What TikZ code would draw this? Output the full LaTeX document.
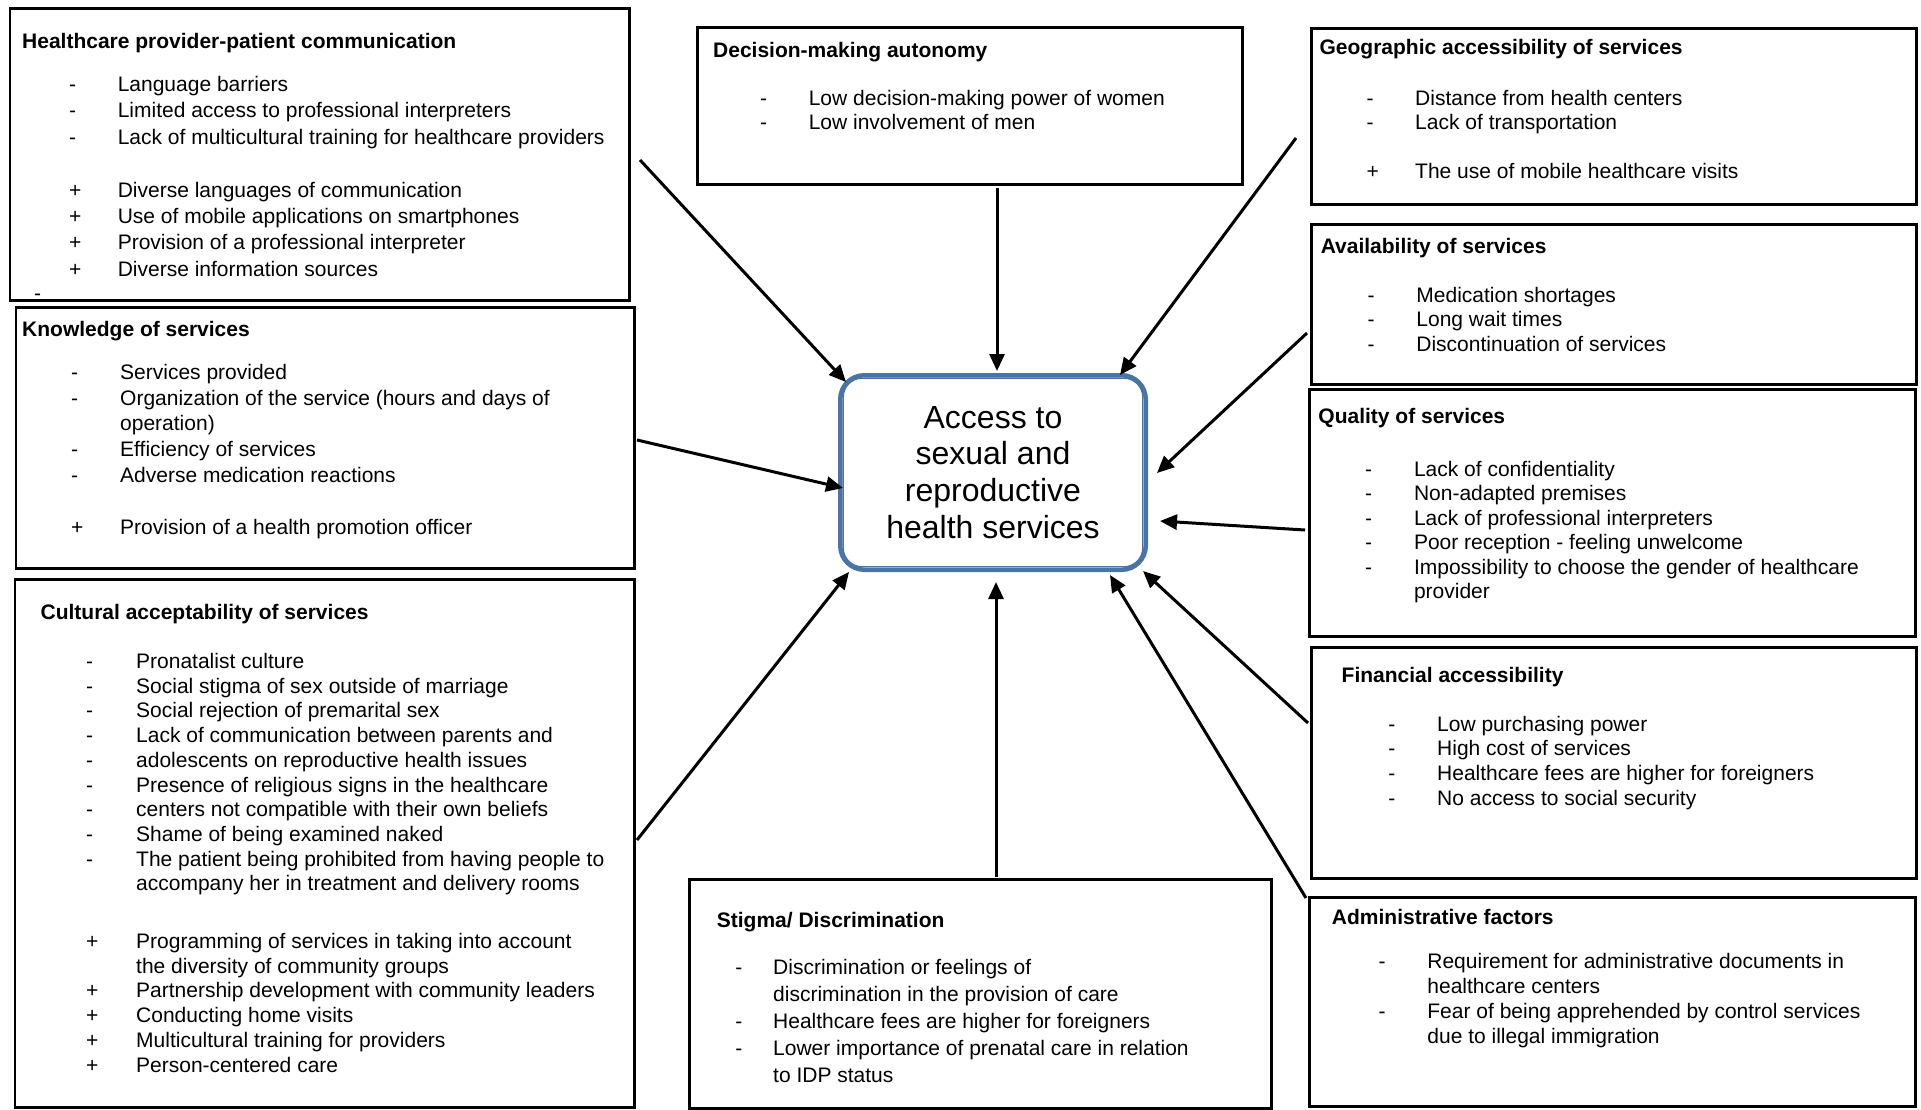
\documentclass[tikz,border=0pt]{standalone}
\usepackage{fontspec}
\setmainfont{Liberation Sans}
\usetikzlibrary{arrows.meta,calc}
\definecolor{cblue}{HTML}{4A74A4}
\newcommand{\bul}[2]{\makebox[#1][l]{#2}}
\newcommand{\lstx}[2]{\fontsize{21}{#1}\selectfont\begin{tabular}[t]{@{}l@{}}#2\end{tabular}}
\begin{document}
\begin{tikzpicture}[x=1pt,y=-1pt,
  box/.style={draw, line width=2.6pt, rectangle, inner sep=0pt, anchor=north west},
  ttl/.style={anchor=base west, inner sep=0pt, font=\fontsize{21}{25}\selectfont\bfseries},
  lst/.style={anchor=base west, inner sep=0pt},
  arr/.style={line width=3pt, -{Triangle[length=17pt,width=15pt]}}]
\useasboundingbox (0,0) rectangle (1921,1109);

% ---------- Box A
\node[box, minimum width=619.4pt, minimum height=291.6pt] (bA) at (8.6,7.4) {};
\node[ttl] (tA) at (22,48.6) {Healthcare provider-patient communication};
\node[lst] (lA) at (69,91.5) {\lstx{26.4pt}{%
\bul{48.6pt}{-}Language barriers\\
\bul{48.6pt}{-}Limited access to professional interpreters\\
\bul{48.6pt}{-}Lack of multicultural training for healthcare providers\\[26.4pt]
\bul{48.6pt}{+}Diverse languages of communication\\
\bul{48.6pt}{+}Use of mobile applications on smartphones\\
\bul{48.6pt}{+}Provision of a professional interpreter\\
\bul{48.6pt}{+}Diverse information sources}};
\node[lst, font=\fontsize{21}{25}\selectfont] (xA) at (34,300) {-};

% ---------- Box B
\node[box, minimum width=618.3pt, minimum height=261pt] (bB) at (14.7,306) {};
\node[ttl] (tB) at (22,336.5) {Knowledge of services};
\node[lst] (lB) at (71,379.4) {\lstx{25.7pt}{%
\bul{49pt}{-}Services provided\\
\bul{49pt}{-}Organization of the service (hours and days of\\
\bul{49pt}{}operation)\\
\bul{49pt}{-}Efficiency of services\\
\bul{49pt}{-}Adverse medication reactions\\[27pt]
\bul{49pt}{+}Provision of a health promotion officer}};

% ---------- Box C
\node[box, minimum width=619.5pt, minimum height=528pt] (bC) at (13.5,578) {};
\node[ttl] (tC) at (40.4,619.5) {Cultural acceptability of services};
\node[lst] (lC) at (86,668.5) {\lstx{24.7pt}{%
\bul{50pt}{-}Pronatalist culture\\
\bul{50pt}{-}Social stigma of sex outside of marriage\\
\bul{50pt}{-}Social rejection of premarital sex\\
\bul{50pt}{-}Lack of communication between parents and\\
\bul{50pt}{-}adolescents on reproductive health issues\\
\bul{50pt}{-}Presence of religious signs in the healthcare\\
\bul{50pt}{-}centers not compatible with their own beliefs\\
\bul{50pt}{-}Shame of being examined naked\\
\bul{50pt}{-}The patient being prohibited from having people to\\
\bul{50pt}{}accompany her in treatment and delivery rooms\\[33pt]
\bul{50pt}{+}Programming of services in taking into account\\
\bul{50pt}{}the diversity of community groups\\
\bul{50pt}{+}Partnership development with community leaders\\
\bul{50pt}{+}Conducting home visits\\
\bul{50pt}{+}Multicultural training for providers\\
\bul{50pt}{+}Person-centered care}};

% ---------- Box D
\node[box, minimum width=545pt, minimum height=157pt] (bD) at (696,26) {};
\node[ttl] (tD) at (713,57) {Decision-making autonomy};
\node[lst] (lD) at (760,105) {\lstx{24.5pt}{%
\bul{48.6pt}{-}Low decision-making power of women\\
\bul{48.6pt}{-}Low involvement of men}};

% ---------- Box E
\node[box, minimum width=605pt, minimum height=176pt] (bE) at (1310,27) {};
\node[ttl] (tE) at (1319.4,54.8) {Geographic accessibility of services};
\node[lst] (lE) at (1366.5,105) {\lstx{24.5pt}{%
\bul{48.5pt}{-}Distance from health centers\\
\bul{48.5pt}{-}Lack of transportation\\[24.5pt]
\bul{48.5pt}{+}The use of mobile healthcare visits}};

% ---------- Box F
\node[box, minimum width=605pt, minimum height=160pt] (bF) at (1310,223) {};
\node[ttl] (tF) at (1320.6,253.2) {Availability of services};
\node[lst] (lF) at (1367.5,302.2) {\lstx{24.5pt}{%
\bul{48.7pt}{-}Medication shortages\\
\bul{48.7pt}{-}Long wait times\\
\bul{48.7pt}{-}Discontinuation of services}};

% ---------- Box G
\node[box, minimum width=606pt, minimum height=247pt] (bG) at (1308,388) {};
\node[ttl] (tG) at (1318.2,423.5) {Quality of services};
\node[lst] (lG) at (1365,476.2) {\lstx{24.5pt}{%
\bul{48.8pt}{-}Lack of confidentiality\\
\bul{48.8pt}{-}Non-adapted premises\\
\bul{48.8pt}{-}Lack of professional interpreters\\
\bul{48.8pt}{-}Poor reception - feeling unwelcome\\
\bul{48.8pt}{-}Impossibility to choose the gender of healthcare\\
\bul{48.8pt}{}provider}};

% ---------- Box H
\node[box, minimum width=605pt, minimum height=231pt] (bH) at (1310,646) {};
\node[ttl] (tH) at (1341.5,682) {Financial accessibility};
\node[lst] (lH) at (1388.2,731) {\lstx{24.9pt}{%
\bul{48.8pt}{-}Low purchasing power\\
\bul{48.8pt}{-}High cost of services\\
\bul{48.8pt}{-}Healthcare fees are higher for foreigners\\
\bul{48.8pt}{-}No access to social security}};

% ---------- Box I
\node[box, minimum width=606pt, minimum height=209pt] (bI) at (1308,896) {};
\node[ttl] (tI) at (1331.7,924.6) {Administrative factors};
\node[lst] (lI) at (1378.4,968.7) {\lstx{24.9pt}{%
\bul{48.8pt}{-}Requirement for administrative documents in\\
\bul{48.8pt}{}healthcare centers\\
\bul{48.8pt}{-}Fear of being apprehended by control services\\
\bul{48.8pt}{}due to illegal immigration}};

% ---------- Box J
\node[box, minimum width=582pt, minimum height=229pt] (bJ) at (688,878) {};
\node[ttl] (tJ) at (716.7,927) {Stigma/ Discrimination};
\node[lst] (lJ) at (735.2,974.8) {\lstx{27pt}{%
\bul{37.8pt}{-}Discrimination or feelings of\\
\bul{37.8pt}{}discrimination in the provision of care\\
\bul{37.8pt}{-}Healthcare fees are higher for foreigners\\
\bul{37.8pt}{-}Lower importance of prenatal care in relation\\
\bul{37.8pt}{}to IDP status}};

% ---------- Center
\node[draw=cblue, line width=4.5pt, rounded corners=24pt, minimum width=305.5pt,
      minimum height=194.5pt, align=center, inner sep=0pt,
      font=\fontsize{32}{36.75}\selectfont] (ctr) at (993,472.5)
  {Access to\\sexual and\\reproductive\\health services};
\draw[cblue, line width=1.3pt, rounded corners=19pt]
  ($(ctr.north west)+(5.2,5.2)$) rectangle ($(ctr.south east)+(-5.2,-5.2)$);

% ---------- Arrows
\coordinate (s1) at (640,160);  \coordinate (e1) at (846,382);
\coordinate (s2) at (997,188);  \coordinate (e2) at (997,371);
\coordinate (s3) at (1296,138); \coordinate (e3) at (1120,375);
\coordinate (s4) at (1307,333); \coordinate (e4) at (1157,473);
\coordinate (s5) at (1305,530); \coordinate (e5) at (1160,521);
\coordinate (s6) at (1308,723); \coordinate (e6) at (1143,571);
\coordinate (s7) at (1306,898); \coordinate (e7) at (1110,575);
\coordinate (s8) at (996,877);  \coordinate (e8) at (996,582);
\coordinate (s9) at (637,840);  \coordinate (e9) at (849,572);
\coordinate (s10) at (637,440); \coordinate (e10) at (843,488);
\foreach \i in {1,...,10} { \draw[arr] (s\i) -- (e\i); }
\end{tikzpicture}
\end{document}
